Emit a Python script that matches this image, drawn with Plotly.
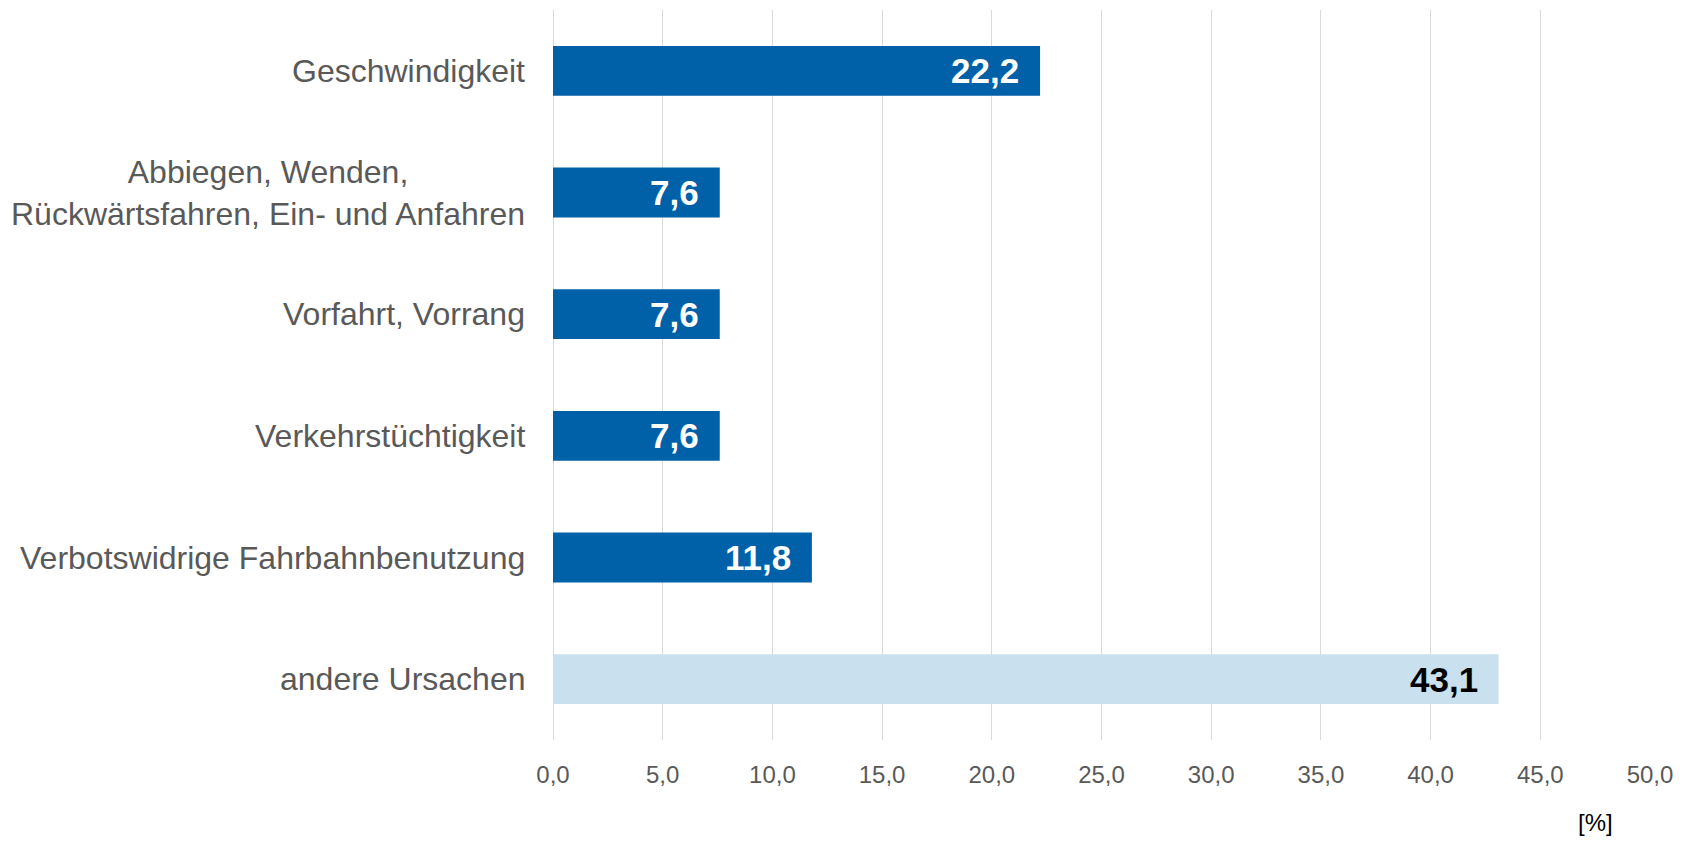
import plotly.graph_objects as go

categories = ["Geschwindigkeit",
              "Abbiegen, Wenden,<br>Rückwärtsfahren, Ein- und Anfahren",
              "Vorfahrt, Vorrang",
              "Verkehrstüchtigkeit",
              "Verbotswidrige Fahrbahnbenutzung",
              "andere Ursachen"]
values = [22.2, 7.6, 7.6, 7.6, 11.8, 43.1]
value_labels = ["22,2", "7,6", "7,6", "7,6", "11,8", "43,1"]
bar_colors = ["#0061A8", "#0061A8", "#0061A8", "#0061A8", "#0061A8", "#C9E0EE"]
label_colors = ["white", "white", "white", "white", "white", "black"]
tick_vals = [0, 5, 10, 15, 20, 25, 30, 35, 40, 45, 50]
tick_text = ["0,0", "5,0", "10,0", "15,0", "20,0", "25,0", "30,0", "35,0", "40,0", "45,0", "50,0"]
unit_label = "[%]"

FONT = "Liberation Sans, Arial, sans-serif"

# page body has an 8px margin; figure sized to fit inside the window
W, H = 1678, 828
L, T, B, R = 545, 2, 96, 36

fig = go.Figure()
fig.add_trace(go.Bar(
    x=values, y=categories, orientation="h",
    marker=dict(color=bar_colors, line=dict(width=0)),
    hoverinfo="skip",
))

annotations = []
for c, v, t, col in zip(categories, values, value_labels, label_colors):
    annotations.append(dict(x=v, y=c, xref="x", yref="y", text=t, showarrow=False,
                            xanchor="right", yanchor="middle", xshift=-19,
                            font=dict(family=FONT, size=35, color=col, weight="bold")))
    annotations.append(dict(x=0, y=c, xref="paper", yref="y", text=c, showarrow=False,
                            xanchor="right", yanchor="middle", xshift=-26, align="center",
                            font=dict(family=FONT, size=32, color="#595959")))
plot_h = H - T - B
annotations.append(dict(x=47.5, y=-(814 - 732) / plot_h, xref="x", yref="paper",
                        text=unit_label, showarrow=False, xanchor="center", yanchor="middle",
                        font=dict(family=FONT, size=24, color="black")))

fig.update_layout(
    width=W, height=H,
    margin=dict(l=L, r=R, t=T, b=B),
    plot_bgcolor="white", paper_bgcolor="white",
    bargap=0.59,
    showlegend=False,
    annotations=annotations,
    xaxis=dict(range=[0, 50], tickvals=tick_vals, ticktext=tick_text,
               showgrid=True, gridcolor="#D9D9D9", gridwidth=1,
               zeroline=True, zerolinecolor="#D9D9D9", zerolinewidth=1,
               showline=False, ticks="outside", ticklen=13, tickcolor="rgba(0,0,0,0)",
               tickfont=dict(family=FONT, size=24, color="#595959"), fixedrange=True),
    yaxis=dict(autorange="reversed", showticklabels=False, showgrid=False,
               zeroline=False, showline=False, fixedrange=True),
)

fig.write_html("out.html")
